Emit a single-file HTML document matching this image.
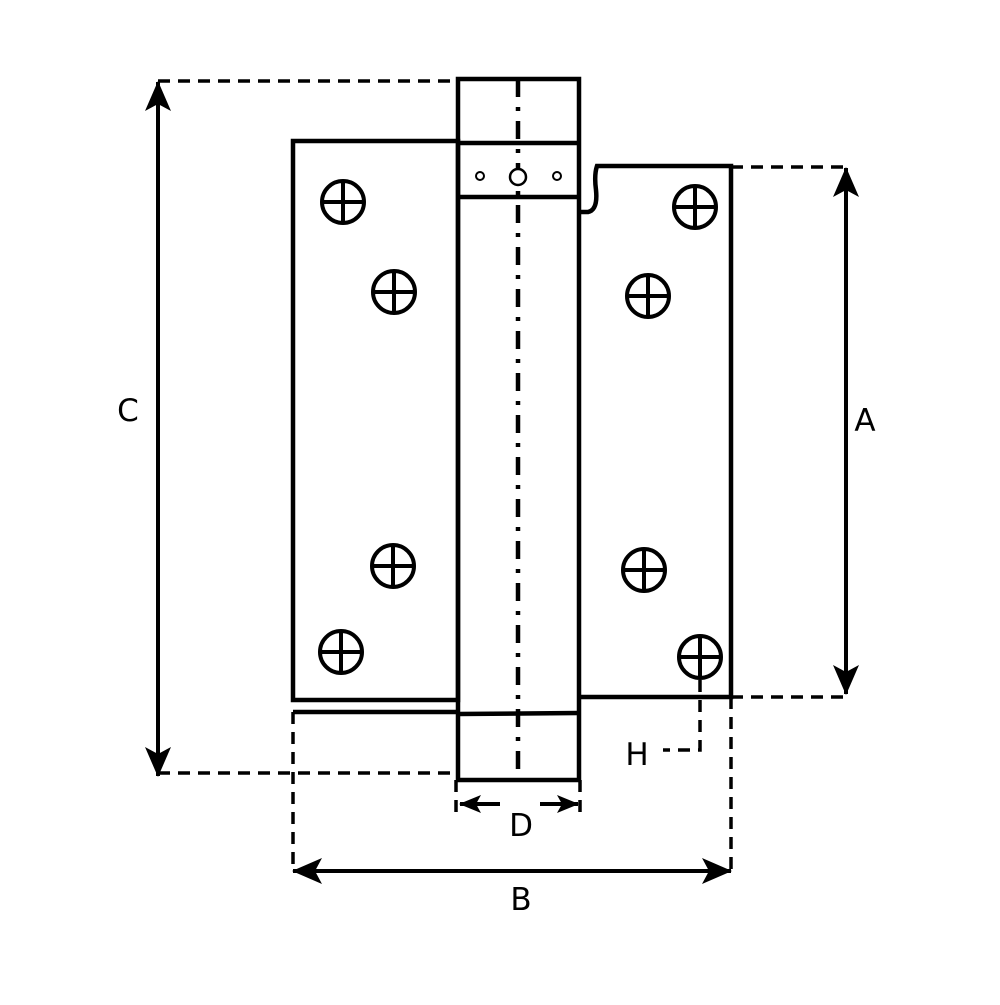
<!DOCTYPE html>
<html><head><style>html,body{margin:0;padding:0;background:#fff}</style></head>
<body>
<svg width="1000" height="1000" viewBox="0 0 1000 1000" xmlns="http://www.w3.org/2000/svg">
<defs>
<marker id="ar" viewBox="0 0 30 26" refX="29" refY="13" markerWidth="30" markerHeight="26" markerUnits="userSpaceOnUse" orient="auto-start-reverse">
<path d="M0,0 L30,13 L0,26 L7,13 Z" fill="#000"/>
</marker>
<marker id="ars" viewBox="0 0 22 18" refX="21" refY="9" markerWidth="22" markerHeight="18" markerUnits="userSpaceOnUse" orient="auto-start-reverse">
<path d="M0,0 L22,9 L0,18 L5,9 Z" fill="#000"/>
</marker>
</defs>
<g stroke="#000" fill="none" stroke-width="4.5">
<rect x="293" y="141" width="165" height="559"/>
<line x1="293" y1="712" x2="458" y2="712"/>
<rect x="458" y="79" width="121" height="701"/>
<line x1="458" y1="143" x2="579" y2="143"/>
<line x1="458" y1="197" x2="579" y2="197"/>
<line x1="458" y1="714" x2="579" y2="713"/>
<path d="M579,697 L731,697 L731,166 L597,166 Q594,175 596,190 Q598,210 588,212 L579,212"/>
<line x1="518" y1="79" x2="518" y2="780" stroke-dasharray="18,10,4,10"/>
<circle cx="518" cy="177" r="8" stroke-width="2.5" fill="#fff"/>
<circle cx="480" cy="176" r="4" stroke-width="2" fill="#fff"/>
<circle cx="557" cy="176" r="4" stroke-width="2" fill="#fff"/>
</g>
<g stroke="#000" fill="none" stroke-width="4">
<circle cx="343" cy="202" r="21"/><path d="M322,202H364M343,181V223"/>
<circle cx="394" cy="292" r="21"/><path d="M373,292H415M394,271V313"/>
<circle cx="393" cy="566" r="21"/><path d="M372,566H414M393,545V587"/>
<circle cx="341" cy="652" r="21"/><path d="M320,652H362M341,631V673"/>
<circle cx="695" cy="207" r="21"/><path d="M674,207H716M695,186V228"/>
<circle cx="648" cy="296" r="21"/><path d="M627,296H669M648,275V317"/>
<circle cx="644" cy="570" r="21"/><path d="M623,570H665M644,549V591"/>
<circle cx="700" cy="657" r="21"/><path d="M679,657H721M700,636V678"/>
</g>
<g stroke="#000" fill="none" stroke-width="3.5" stroke-dasharray="12,8">
<line x1="158" y1="81" x2="458" y2="81"/>
<line x1="158" y1="773" x2="458" y2="773"/>
<line x1="731" y1="167" x2="846" y2="167"/>
<line x1="731" y1="697" x2="846" y2="697"/>
<line x1="293" y1="712" x2="293" y2="871"/>
<line x1="731" y1="697" x2="731" y2="871"/>
<line x1="456" y1="780" x2="456" y2="812"/>
<line x1="580" y1="780" x2="580" y2="812"/>
<path d="M700,680 V750 H663"/>
</g>
<g stroke="#000" stroke-width="4">
<line x1="158" y1="82" x2="158" y2="776" marker-start="url(#ar)" marker-end="url(#ar)"/>
<line x1="846" y1="168" x2="846" y2="694" marker-start="url(#ar)" marker-end="url(#ar)"/>
<line x1="293" y1="871" x2="731" y2="871" marker-start="url(#ar)" marker-end="url(#ar)"/>
<line x1="460" y1="804" x2="500" y2="804" marker-start="url(#ars)"/>
<line x1="540" y1="804" x2="578" y2="804" marker-end="url(#ars)"/>
</g>
<g font-family="DejaVu Sans, sans-serif" font-size="31" fill="#000" text-anchor="middle">
<text x="128" y="421">C</text>
<text x="865" y="431">A</text>
<text x="521" y="910">B</text>
<text x="521" y="836">D</text>
<text x="637" y="765">H</text>
</g>
</svg>
</body></html>
